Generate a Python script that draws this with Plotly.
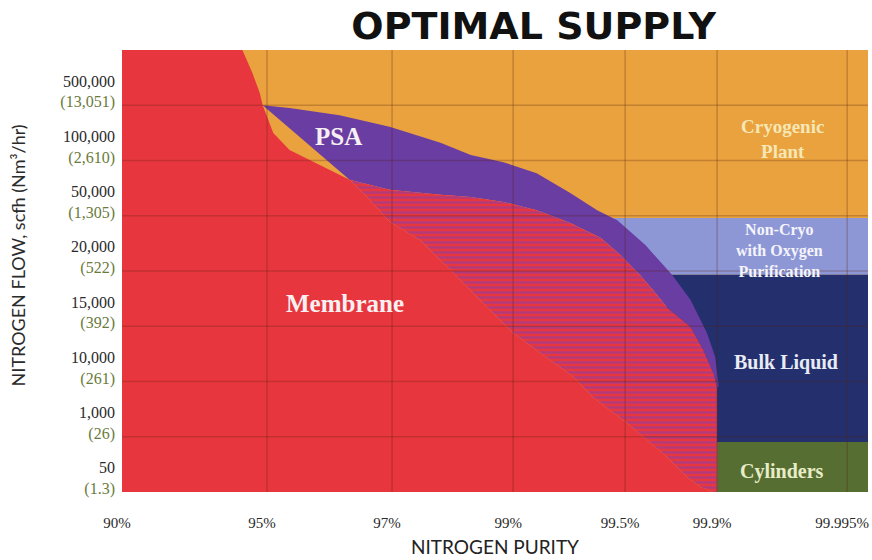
import numpy as np
import plotly.graph_objects as go

# ---- chart data -----------------------------------------------------------
# Purity categories along the x axis and flow-rate bands up the y axis
PURITY_LABELS = ["90%", "95%", "97%", "99%", "99.5%", "99.9%", "99.995%"]
FLOW_SCFH = ["50", "1,000", "10,000", "15,000", "20,000", "50,000", "100,000", "500,000"]
FLOW_NM3H = ["1.3", "26", "261", "392", "522", "1,305", "2,610", "13,051"]

# Region boundaries: x in purity-category units (0 = 90% ... 6 = 99.995%),
# y in flow-band units (0 = bottom of the "50" band ... 8 = top of "500,000").
MEMBRANE_PURITY = [0.83, 0.90, 0.95, 0.97, 1.05, 1.18, 1.45, 1.66, 1.80, 1.98, 2.23, 2.50,
                   2.79, 3.00, 3.30, 3.54, 3.71, 4.02, 4.24, 4.46, 4.67, 4.82, 4.96]
MEMBRANE_FLOW = [8.00, 7.58, 7.22, 7.00, 6.50, 6.19, 5.88, 5.65, 5.34, 4.89, 4.56, 3.98,
                 3.33, 2.88, 2.43, 2.08, 1.72, 1.25, 0.94, 0.63, 0.27, 0.09, 0.00]

# outer edge of the zone where membrane and PSA overlap
OVERLAP_PURITY = [1.66, 1.98, 2.40, 2.65, 2.92, 3.21, 3.51, 3.78, 3.96, 4.16, 4.33, 4.46,
                  4.71, 4.85, 4.96, 5.00, 5.00]
OVERLAP_FLOW = [5.65, 5.47, 5.38, 5.34, 5.25, 5.10, 4.87, 4.60, 4.29, 3.93, 3.60, 3.33,
                2.99, 2.57, 2.15, 1.90, 0.00]

# upper edge of the PSA range
PSA_PURITY = [0.97, 1.18, 1.58, 1.98, 2.40, 2.65, 2.92, 3.21, 3.51, 3.75, 3.93, 4.22,
              4.51, 4.71, 4.89, 4.98, 5.01, 5.01]
PSA_FLOW = [7.00, 6.95, 6.82, 6.61, 6.32, 6.10, 5.97, 5.77, 5.41, 5.10, 4.92, 4.47,
            3.93, 3.48, 2.88, 2.44, 1.97, 1.90]

# rectangular supply ranges: (purity from, purity to), (flow from, flow to)
CRYO_PURITY, CRYO_FLOW = (0.00, 6.20), (0.00, 8.00)
NONCRYO_PURITY, NONCRYO_FLOW = (3.90, 6.20), (3.93, 4.96)
BULK_PURITY, BULK_FLOW = (4.45, 6.20), (0.905, 3.93)
CYL_PURITY, CYL_FLOW = (5.00, 6.20), (0.00, 0.905)

# ---- layout helpers -------------------------------------------------------
# the purity columns are not equally wide: axis position of each purity tick
X_TICK_AT = np.array([0.0, 1.0, 1.862, 2.697, 3.469, 4.103, 5.0])
X_END = 6.16            # right edge of the field, in purity-category units
Y_LABEL_SHIFT = 0.25    # flow labels sit in the lower part of each band


def purity_axis(idx):
    idx = np.asarray(idx, dtype=float)
    seg = np.clip(np.floor(idx), 0, len(X_TICK_AT) - 2).astype(int)
    return X_TICK_AT[seg] + (idx - seg) * (X_TICK_AT[seg + 1] - X_TICK_AT[seg])


RED = "#E8363E"
ORANGE = "#E9A23E"
PURPLE = "#6A3DA3"
HATCH = "#7E3FB4"
PERIWINKLE = "#8D97D6"
NAVY = "#24306E"
GREEN = "#566E32"

fig = go.Figure()


def area(xs, ys, color, name, pattern=None):
    xs = list(xs) + [xs[0]]
    ys = list(ys) + [ys[0]]
    fig.add_trace(go.Scatter(
        x=purity_axis(xs), y=ys, mode="lines", fill="toself",
        fillcolor=color, line=dict(width=0, color=color),
        fillpattern=pattern, name=name, hoverinfo="name", showlegend=False,
    ))


def rect(pur, flow, color, name):
    area([pur[0], pur[1], pur[1], pur[0]], [flow[0], flow[0], flow[1], flow[1]], color, name)


rect(CRYO_PURITY, CRYO_FLOW, ORANGE, "Cryogenic Plant")
rect(NONCRYO_PURITY, NONCRYO_FLOW, PERIWINKLE, "Non-Cryo with Oxygen Purification")
rect(BULK_PURITY, BULK_FLOW, NAVY, "Bulk Liquid")
rect(CYL_PURITY, CYL_FLOW, GREEN, "Cylinders")

# PSA: upper edge, then back along the overlap edge
area(PSA_PURITY + OVERLAP_PURITY[:-1][::-1],
     PSA_FLOW + OVERLAP_FLOW[:-1][::-1], PURPLE, "PSA")

# overlap zone: hatched
area(OVERLAP_PURITY + MEMBRANE_PURITY[7:][::-1],
     OVERLAP_FLOW + MEMBRANE_FLOW[7:][::-1], RED, "Membrane / PSA",
     pattern=dict(shape="-", fgcolor=HATCH, bgcolor=RED, size=5, solidity=0.5))

# membrane
area([0.0] + MEMBRANE_PURITY + [0.0], [MEMBRANE_FLOW[0]] + MEMBRANE_FLOW + [0.0], RED, "Membrane")

# grid drawn over the coloured ranges
grid = dict(color="rgba(90,30,10,0.26)", width=1.5)
shapes = []
for p in X_TICK_AT[1:]:
    shapes.append(dict(type="line", xref="x", yref="paper", x0=p, x1=p, y0=0, y1=1,
                       line=grid, layer="above"))
for k in range(1, len(FLOW_SCFH)):
    shapes.append(dict(type="line", xref="paper", yref="y", x0=0, x1=1, y0=k, y1=k,
                       line=grid, layer="above"))

# region names
serif = "Liberation Serif"
labels = [
    ("PSA", 1.57, 6.43, 25, "#F6F0F2"),
    ("Membrane", 1.62, 3.42, 25, "#F6F0F2"),
    ("Cryogenic<br>Plant", 5.50, 6.39, 19, "#F6E7B5"),
    ("Non-Cryo<br>with Oxygen<br>Purification", 5.48, 4.38, 16, "#F4F4FA"),
    ("Bulk Liquid", 5.53, 2.35, 20, "#E8ECF5"),
    ("Cylinders", 5.50, 0.38, 20, "#E8EDC8"),
]
annotations = []
for text, px, fy, size, col in labels:
    annotations.append(dict(
        text=f"<b>{text}</b>", x=float(purity_axis(px)), y=fy, xref="x", yref="y",
        showarrow=False, font=dict(family=serif, size=size, color=col),
        xanchor="center", yanchor="middle", align="center",
    ))

annotations.append(dict(
    text="NITROGEN FLOW, scfh (Nm³/hr)", textangle=-90, x=-0.139, y=0.536,
    xref="paper", yref="paper", showarrow=False, xanchor="center", yanchor="middle",
    font=dict(family="Lato", size=18, color="#2b2b2b"),
))

y_ticktext = [f"{a}<br><span style='color:#6b7a3c'>({b})</span>"
              for a, b in zip(FLOW_SCFH, FLOW_NM3H)]

fig.update_layout(
    width=872, height=560,
    margin=dict(l=122, r=4, t=50, b=68),
    paper_bgcolor="white", plot_bgcolor=ORANGE,
    title=dict(text="<b>OPTIMAL SUPPLY</b>", x=0.612, y=0.955, xref="container",
               yref="container", xanchor="center", yanchor="middle",
               font=dict(family="DejaVu Sans", size=38, color="#111111")),
    xaxis=dict(
        range=[0, float(purity_axis(X_END))], tickvals=X_TICK_AT, ticktext=PURITY_LABELS,
        showgrid=False, zeroline=False, showline=False, ticks="",
        ticklabelstandoff=20, ticklabelshift=-5, ticklabeloverflow="allow",
        automargin=False, fixedrange=True,
        tickfont=dict(family=serif, size=15, color="#2a2a2a"),
        title=dict(text="NITROGEN PURITY", standoff=10,
                   font=dict(family="Lato", size=19, color="#222222")),
    ),
    yaxis=dict(
        range=[0, len(FLOW_SCFH)],
        tickvals=[k + Y_LABEL_SHIFT for k in range(len(FLOW_SCFH))], ticktext=y_ticktext,
        showgrid=False, zeroline=False, showline=False, ticks="",
        ticklabelstandoff=6, automargin=False, fixedrange=True,
        tickfont=dict(family=serif, size=16, color="#2a2a2a"),
    ),
    shapes=shapes,
    annotations=annotations,
)

fig.write_html("out.html")
